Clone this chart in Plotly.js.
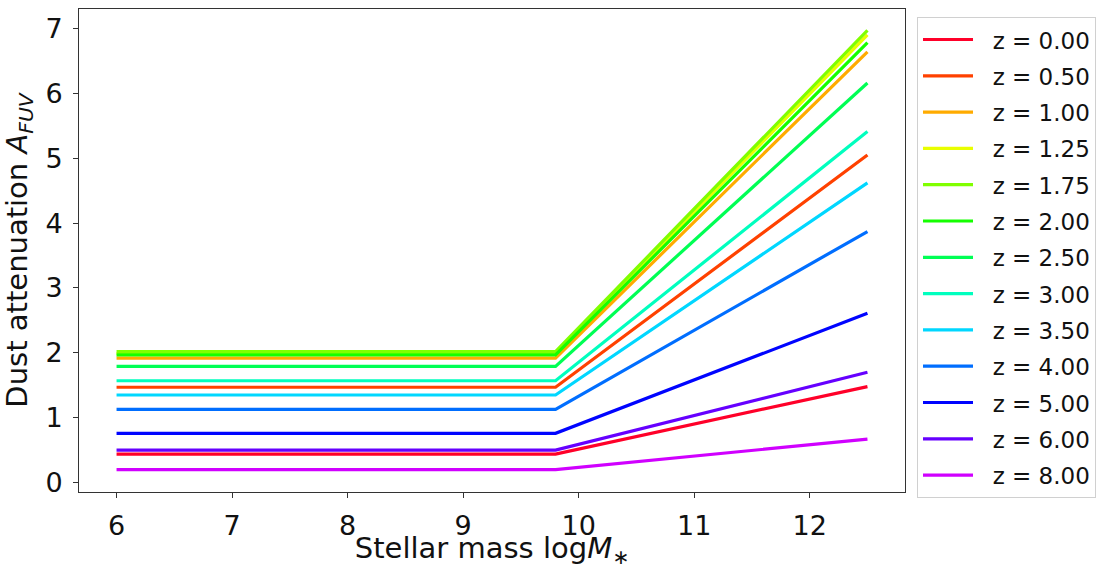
<!DOCTYPE html>
<html>
<head>
<meta charset="utf-8">
<script src="https://cdn.plot.ly/plotly-3.0.1.min.js"></script>
<style>html,body{margin:0;padding:0;background:#fff;}#chart{width:1099px;height:569px;}</style>
</head>
<body>
<div id="chart"></div>
<script>
// Stellar mass knots (log M*)
const massKnots = [6, 9.8, 12.5];
// Redshift labels
const redshifts = ["0.00","0.50","1.00","1.25","1.75","2.00","2.50","3.00","3.50","4.00","5.00","6.00","8.00"];
// A_FUV on the flat part (logM* <= 9.8)
const aFlat = [0.44, 1.47, 1.92, 1.99, 2.02, 1.97, 1.79, 1.57, 1.35, 1.13, 0.76, 0.50, 0.20];
// A_FUV at logM* = 12.5
const aHigh = [1.48, 5.05, 6.64, 6.90, 6.97, 6.78, 6.16, 5.41, 4.62, 3.87, 2.61, 1.70, 0.67];
// gist_rainbow colours
const colors = ["#ff0029","#ff4100","#ffab00","#e9ff00","#80ff00","#15ff00","#00ff54","#00ffbe","#00d7ff","#006eff","#0004ff","#6600ff","#d000ff"];

const font = "'DejaVu Sans', sans-serif";
const traces = redshifts.map((z, i) => ({
  x: massKnots,
  y: [aFlat[i], aFlat[i], aHigh[i]],
  type: "scatter",
  mode: "lines",
  name: "\u00a0\u00a0z = " + z,
  legendgroup: "g" + i,
  line: {color: colors[i], width: 3.2}
}));

const axisCommon = {
  showgrid: false,
  zeroline: false,
  showline: true,
  mirror: true,
  linecolor: "#333",
  linewidth: 1,
  ticks: "outside",
  ticklen: 5,
  tickwidth: 1,
  tickcolor: "#333",
  tickfont: {family: font, size: 27, color: "#111"}
};

const layout = {
  width: 1099,
  height: 569,
  margin: {l: 79, r: 194, t: 9, b: 77},
  paper_bgcolor: "#fff",
  plot_bgcolor: "#fff",
  showlegend: true,
  xaxis: Object.assign({}, axisCommon, {
    range: [5.675, 12.825],
    tickvals: [6, 7, 8, 9, 10, 11, 12],
    ticktext: ["6","7","8","9","10","11","12"],
    ticklabelstandoff: 5,
    title: {text: "Stellar mass log<i>M</i><sub>∗</sub>", font: {family: font, size: 29, color: "#111"}, standoff: 14}
  }),
  yaxis: Object.assign({}, axisCommon, {
    range: [-0.145, 7.3],
    tickvals: [0, 1, 2, 3, 4, 5, 6, 7],
    ticktext: ["0","1","2","3","4","5","6","7"],
    ticklabelstandoff: 5,
    title: {text: "Dust attenuation <i>A<sub>FUV</sub></i>", font: {family: font, size: 29, color: "#111"}, standoff: 10}
  }),
  legend: {
    xref: "container", yref: "container",
    x: 0.8344, xanchor: "left",
    y: 0.970, yanchor: "top",
    maxheight: 560,
    font: {family: font, size: 23, color: "#111"},
    bordercolor: "#d0d0d0", borderwidth: 1, bgcolor: "#fff",
    traceorder: "grouped",
    tracegroupgap: 3.4,
    itemwidth: 50
  }
};

Plotly.newPlot("chart", traces, layout, {displayModeBar: false, staticPlot: true});
</script>
</body>
</html>
